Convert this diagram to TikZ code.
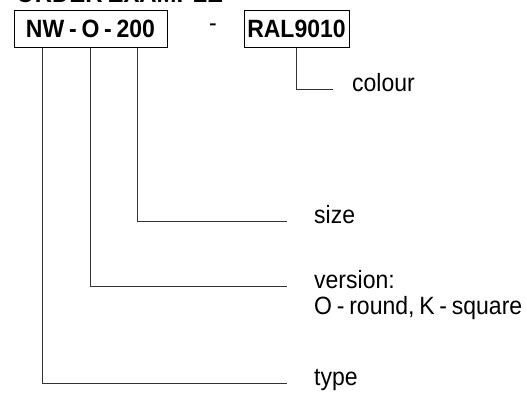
\documentclass[tikz,border=0pt]{standalone}
\usepackage{fontspec}
\setmainfont{Liberation Sans}[FakeStretch=0.92, WordSpace=0.75]

\tikzset{
  codebox/.style={draw, line width=1pt, inner sep=0pt, font=\fontsize{25}{27}\selectfont\bfseries},
  lbl/.style={inner sep=0pt, anchor=mid west, font=\fontsize{25}{27}\selectfont},
  conn/.style={black!80, line width=1pt},
}

\begin{document}
\begin{tikzpicture}[x=1pt, y=-1pt]

    % Page frame
    \useasboundingbox (0,0) rectangle (527,394);
    \clip (0,0) rectangle (527,394);

    % Heading (cut off at the top)
    \node[inner sep=0pt, anchor=base west, font=\fontsize{26}{28}\selectfont\bfseries] (title) at (16,2) {ORDER EXAMPLE};

    % Code boxes
    \node[codebox, minimum width=153pt, minimum height=37pt] (code) at (90.5,28.5) {NW - O - 200};
    \node[lbl, anchor=center] (dash) at (213,28) {-};
    \node[codebox, minimum width=105pt, minimum height=37pt] (ral) at (296.5,28.5) {RAL9010};

    % Labels
    \node[lbl] (colour) at (352,89) {colour};
    \node[lbl] (size) at (314,221) {size};
    \node[lbl] (version) at (314,286) {version:};
    \node[lbl] (shape) at (314,312) {O - round, K - square};
    \node[lbl] (type) at (314,383) {type};

    % Leader lines
    \draw[conn] (ral.south) |- ([xshift=-19pt]colour.mid west);
    \draw[conn] ([xshift=47pt]code.south) |- ([xshift=-27pt]size.mid west);
    \draw[conn] (code.south) |- ([xshift=-27pt]version.mid west);
    \draw[conn] ([xshift=-48pt]code.south) |- ([xshift=-27pt]type.mid west);

\end{tikzpicture}
\end{document}
